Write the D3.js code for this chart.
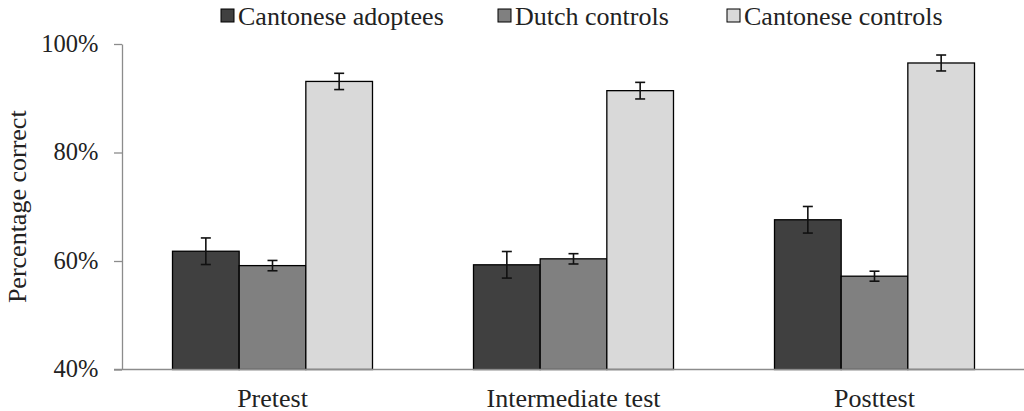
<!DOCTYPE html>
<html>
<head>
<meta charset="utf-8">
<script src="https://cdn.jsdelivr.net/npm/d3@7"></script>
<style>
  html, body { margin: 0; padding: 0; background: #fff; }
  svg text { font-family: "Liberation Serif", "Times New Roman", serif; fill: #222; }
</style>
</head>
<body>
<svg id="chart" width="1024" height="411"></svg>
<script>
// Test moments on the x axis
const tests = ["Pretest", "Intermediate test", "Posttest"];
// Participant groups (legend order)
const groups = ["Cantonese adoptees", "Dutch controls", "Cantonese controls"];
const groupColors = ["#404040", "#808080", "#d9d9d9"];

// Mean proportion correct per test moment
const adopteeMeans = [0.618, 0.593, 0.676];
const dutchMeans = [0.5915, 0.604, 0.572];
const cantoneseMeans = [0.931, 0.914, 0.965];

// Standard errors
const adopteeErr = [0.0245, 0.0245, 0.0245];
const dutchErr = [0.0095, 0.0095, 0.0092];
const cantoneseErr = [0.015, 0.0153, 0.0147];

const yTicks = [0.4, 0.6, 0.8, 1.0];

const means = [adopteeMeans, dutchMeans, cantoneseMeans];
const errs = [adopteeErr, dutchErr, cantoneseErr];

const rows = [];
tests.forEach((t, ti) => {
  groups.forEach((g, gi) => {
    rows.push({ test: t, group: g, gi, value: means[gi][ti], err: errs[gi][ti] });
  });
});

const svg = d3.select("#chart");

const x0 = d3.scaleBand().domain(tests).range([122, 1025]).padding(0);
const x1 = d3.scaleBand().domain(groups)
  .range([x0.bandwidth() * 0.1678, x0.bandwidth() * (1 - 0.1678)]).padding(0);
const y = d3.scaleLinear().domain([0.4, 1.0]).range([369.5, 44]);

// Bars
svg.append("g").selectAll("rect").data(rows).join("rect")
  .attr("x", d => x0(d.test) + x1(d.group))
  .attr("y", d => y(d.value))
  .attr("width", x1.bandwidth())
  .attr("height", d => y(0.4) - y(d.value))
  .attr("fill", d => groupColors[d.gi])
  .attr("stroke", "#000")
  .attr("stroke-width", 1.3);

// Error bars
const eb = svg.append("g").attr("stroke", "#111").attr("stroke-width", 1.6).attr("fill", "none");
rows.forEach(d => {
  const cx = x0(d.test) + x1(d.group) + x1.bandwidth() / 2;
  const hi = y(d.value + d.err), lo = y(d.value - d.err);
  eb.append("line").attr("x1", cx).attr("x2", cx).attr("y1", hi).attr("y2", lo);
  eb.append("line").attr("x1", cx - 5).attr("x2", cx + 5).attr("y1", hi).attr("y2", hi);
  eb.append("line").attr("x1", cx - 5).attr("x2", cx + 5).attr("y1", lo).attr("y2", lo);
});

// Y axis
const yAxis = svg.append("g").attr("transform", "translate(122,0)")
  .call(d3.axisLeft(y).tickValues(yTicks).tickFormat(d3.format(".0%")).tickSize(8).tickSizeOuter(0));
yAxis.select(".domain").attr("stroke", "#8c8c8c").attr("stroke-width", 1.3);
yAxis.selectAll(".tick line").attr("stroke", "#8c8c8c").attr("stroke-width", 1.3);
yAxis.selectAll(".tick text")
  .attr("x", -23.5).attr("dy", "0.3em")
  .style("font-family", "'Liberation Serif', serif")
  .style("font-size", "24.5px").attr("fill", "#222");

// X axis baseline
const xAxis = svg.append("g").attr("transform", `translate(0,${y(0.4)})`)
  .call(d3.axisBottom(x0).tickSize(0).tickSizeOuter(0));
xAxis.select(".domain").remove();
xAxis.append("line").attr("x1", 114).attr("x2", 1024).attr("y1", 0).attr("y2", 0)
  .attr("stroke", "#8c8c8c").attr("stroke-width", 1.6);
xAxis.selectAll(".tick text")
  .attr("y", 37).attr("dy", 0)
  .style("font-family", "'Liberation Serif', serif")
  .style("font-size", "26px").attr("fill", "#222");

// Y axis title
svg.append("text")
  .attr("transform", `translate(26,${(y(0.4) + y(1.0)) / 2}) rotate(-90)`)
  .attr("text-anchor", "middle")
  .style("font-size", "26px")
  .text("Percentage correct");

// Legend
const legendX = [221, 498, 727];
const legend = svg.append("g").selectAll("g").data(groups).join("g")
  .attr("transform", (d, i) => `translate(${legendX[i]},0)`);
legend.append("rect")
  .attr("x", 0).attr("y", 9).attr("width", 13).attr("height", 13)
  .attr("fill", (d, i) => groupColors[i])
  .attr("stroke", "#000").attr("stroke-width", 1);
legend.append("text")
  .attr("x", 17).attr("y", 24.5)
  .style("font-size", "26px")
  .text(d => d);
</script>
</body>
</html>
